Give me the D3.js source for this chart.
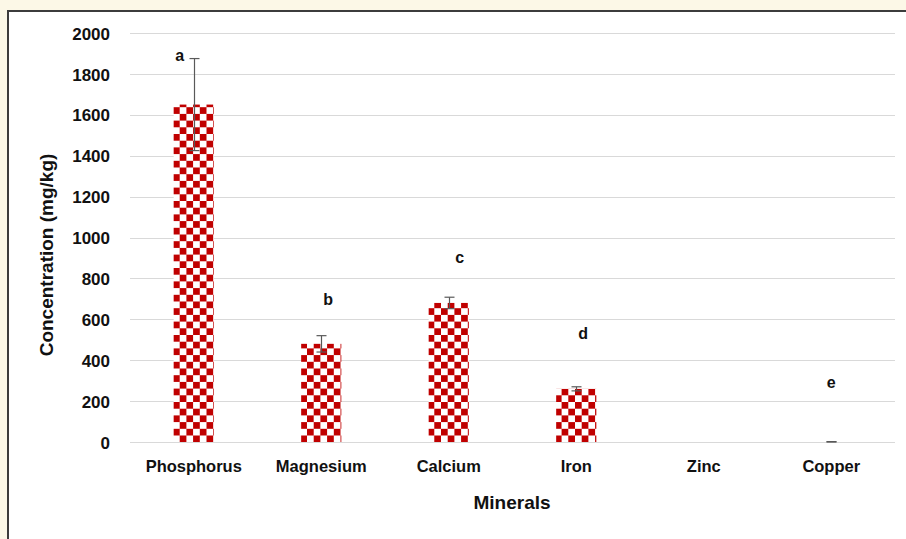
<!DOCTYPE html>
<html>
<head>
<meta charset="utf-8">
<script src="https://cdn.jsdelivr.net/npm/d3@7"></script>
<style>
  html, body { margin: 0; padding: 0; background: #fcf8e7; }
  svg { display: block; }
  text { font-family: "Liberation Sans", Arial, sans-serif; font-weight: bold; fill: #111111; }
</style>
</head>
<body>
<script>
// ---- data ----
const categories = ["Phosphorus", "Magnesium", "Calcium", "Iron", "Zinc", "Copper"];
const values = [1650, 480, 680, 260, 0, 1];
const errors = [225, 40, 28, 10, 0, 1];
const letters = ["a", "b", "c", "d", "", "e"];
const letterLevels = [1865, 670, 875, 504, 0, 264];   // level of each letter, mg/kg
const letterNudge = [-14, 7, 11, 7, 0, 0];
const yTicks = [0, 200, 400, 600, 800, 1000, 1200, 1400, 1600, 1800, 2000];

const W = 906, H = 539;
const svg = d3.select("body").append("svg").attr("width", W).attr("height", H);

// pattern
const defs = svg.append("defs");
const cell = 6.7;
const pat = defs.append("pattern").attr("id", "checks").attr("patternUnits", "userSpaceOnUse")
  .attr("width", cell * 2).attr("height", cell * 2).attr("x", 173).attr("y", 0);
pat.append("rect").attr("width", cell * 2).attr("height", cell * 2).attr("fill", "#ffffff");
pat.append("rect").attr("x", 0).attr("y", 0).attr("width", cell).attr("height", cell).attr("fill", "#c00000");
pat.append("rect").attr("x", cell).attr("y", cell).attr("width", cell).attr("height", cell).attr("fill", "#c00000");

// frame
svg.append("rect").attr("x", 8).attr("y", 11).attr("width", W + 10).attr("height", H + 10)
  .attr("fill", "#ffffff").attr("stroke", "#3c3c3c").attr("stroke-width", 2);

const x = d3.scaleBand().domain(categories).range([130, 895]).paddingInner(0.685).paddingOuter(0.3425);
const y = d3.scaleLinear().domain([0, 2000]).range([442, 33]);

// gridlines
svg.append("g").selectAll("line").data(yTicks).join("line")
  .attr("x1", 130).attr("x2", 895)
  .attr("y1", d => Math.round(y(d)) + 0.5).attr("y2", d => Math.round(y(d)) + 0.5)
  .attr("stroke", "#d9d9d9").attr("stroke-width", 1);

// y axis labels
const yAxis = d3.axisLeft(y).tickValues(yTicks).tickSize(0).tickPadding(0).tickFormat(d3.format("d"));
const gy = svg.append("g").attr("transform", "translate(110,0)").call(yAxis);
gy.select(".domain").remove();
gy.selectAll("text").attr("font-size", 17).attr("font-family", "Liberation Sans").attr("font-weight", "bold").attr("fill", "#111111").attr("dy", "0.36em");

// x axis labels
const xAxis = d3.axisBottom(x).tickSize(0).tickPadding(0);
const gx = svg.append("g").attr("transform", "translate(0,460)").call(xAxis);
gx.select(".domain").remove();
gx.selectAll("text").attr("font-size", 16.5).attr("font-family", "Liberation Sans").attr("font-weight", "bold").attr("fill", "#111111").attr("dy", "0.71em");

// bars
svg.append("g").selectAll("rect").data(categories.filter((d, i) => values[i] >= 5)).join("rect")
  .attr("x", d => x(d)).attr("width", x.bandwidth())
  .attr("y", d => y(values[categories.indexOf(d)]))
  .attr("height", d => y(0) - y(values[categories.indexOf(d)]))
  .attr("fill", "url(#checks)");

// error bars
const eg = svg.append("g").attr("stroke", "#595959").attr("stroke-width", 1.2);
categories.forEach((c, i) => {
  if (!errors[i]) return;
  const cx = Math.round(x(c) + x.bandwidth() / 2) + 0.5;
  const top = y(values[i] + errors[i]), bot = y(Math.max(0, values[i] - errors[i]));
  eg.append("line").attr("x1", cx).attr("x2", cx).attr("y1", top).attr("y2", bot);
  eg.append("line").attr("x1", cx - 5).attr("x2", cx + 5).attr("y1", top).attr("y2", top);
  eg.append("line").attr("x1", cx - 5).attr("x2", cx + 5).attr("y1", bot).attr("y2", bot);
});

// letters
svg.append("g").selectAll("text").data(categories).join("text")
  .attr("x", (d, i) => x(d) + x.bandwidth() / 2 + letterNudge[i])
  .attr("y", (d, i) => y(letterLevels[i]))
  .attr("text-anchor", "middle").attr("font-size", 16)
  .text((d, i) => letters[i]);

// axis titles
svg.append("text").attr("x", 512).attr("y", 509).attr("text-anchor", "middle")
  .attr("font-size", 19).text("Minerals");
svg.append("text").attr("transform", "translate(53,255) rotate(-90)").attr("text-anchor", "middle")
  .attr("font-size", 19).text("Concentration (mg/kg)");
</script>
</body>
</html>
